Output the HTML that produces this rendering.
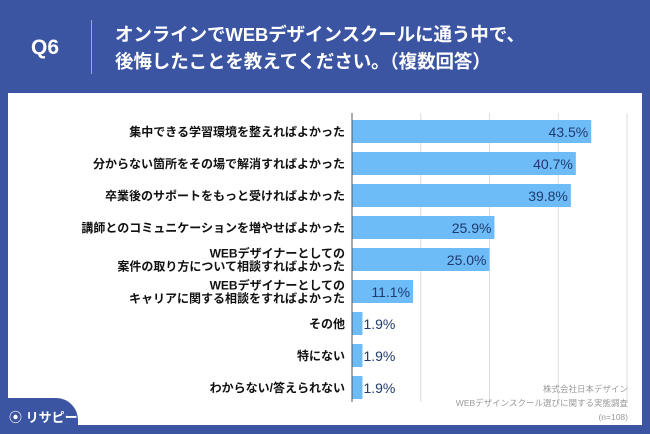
<!DOCTYPE html>
<html><head><meta charset="utf-8"><style>
body{margin:0;width:650px;height:434px;background:#3b55a3;font-family:"Liberation Sans","Noto Sans CJK JP",sans-serif;overflow:hidden;position:relative}
.panel{position:absolute;left:8px;top:93px;width:634px;height:332px;background:#fff}
.q{position:absolute;left:31px;top:36px;color:#fff;font-size:21px;font-weight:bold}
.div{position:absolute;left:91px;top:20px;width:1px;height:54px;background:#9aa8d0}
.title{position:absolute;left:115px;top:21px;color:#fff;font-size:18.5px;font-weight:bold;line-height:27px;letter-spacing:-0.1px}
.foot{position:absolute;right:22px;top:382px;color:#999;font-size:8.5px;line-height:14px;text-align:right;white-space:nowrap}
.logo{position:absolute;left:0;top:398px;width:78px;height:36px;background:#3b55a3;border-top-right-radius:22px;color:#fff;font-size:13px;font-weight:bold;white-space:nowrap}
</style></head><body>
<div class="q">Q6</div>
<div class="div"></div>
<div class="title">オンラインでWEBデザインスクールに通う中で、<br>後悔したことを教えてください。（複数回答）</div>
<div class="panel"></div>
<svg id="chart" width="650" height="434" style="position:absolute;left:0;top:0"></svg>
<div class="foot">株式会社日本デザイン<br>WEBデザインスクール選びに関する実態調査<br>(n=108)</div>
<div class="logo"><span style="position:absolute;left:9px;top:9px">⦿ リサピー</span></div>
<script>
const categories=[["集中できる学習環境を整えればよかった"],["分からない箇所をその場で解消すればよかった"],["卒業後のサポートをもっと受ければよかった"],["講師とのコミュニケーションを増やせばよかった"],["WEBデザイナーとしての","案件の取り方について相談すればよかった"],["WEBデザイナーとしての","キャリアに関する相談をすればよかった"],["その他"],["特にない"],["わからない/答えられない"]];
const values=[43.5,40.7,39.8,25.9,25.0,11.1,1.9,1.9,1.9];
const gridTicks=[0,12.5,25,37.5,50];
const NS="http://www.w3.org/2000/svg";
const svg=document.getElementById('chart');
const x0=352,x1=627,yTop=113,yBot=402,c0=131.5,pitch=32,bh=23;
const xs=v=>x0+(v/50)*(x1-x0);
const yc=i=>c0+i*pitch;
function mk(t,a){const e=document.createElementNS(NS,t);for(const k in a)e.setAttribute(k,a[k]);svg.appendChild(e);return e;}
gridTicks.forEach((t,i)=>{if(i===0)return;const l=mk('line',{x1:xs(t),x2:xs(t),y1:yTop,y2:yBot,stroke:'#ddd','stroke-width':1});

});
values.forEach((v,i)=>{
const r=mk('rect',{x:x0,y:yc(i)-bh/2,width:xs(v)-x0,height:bh,fill:'#6dbcf7'});


const inside=v>5;
const t=mk('text',{x:inside?xs(v)-3:xs(v)+1,y:yc(i)+5.5,'font-size':14,fill:'#1f3a6e','text-anchor':inside?'end':'start'});
t.textContent=v.toFixed(1)+'%';


const lines=categories[i];
lines.forEach((s,j)=>{const y=yc(i)+4.5+(j-(lines.length-1)/2)*13;
const c=mk('text',{x:345,y:y,'font-size':12,'font-weight':'bold',fill:'#111','text-anchor':'end'});
c.textContent=s;

});
});
const ax=mk('line',{x1:x0,x2:x0,y1:yTop,y2:yBot,stroke:'#555','stroke-width':1});


</script>
</body></html>
